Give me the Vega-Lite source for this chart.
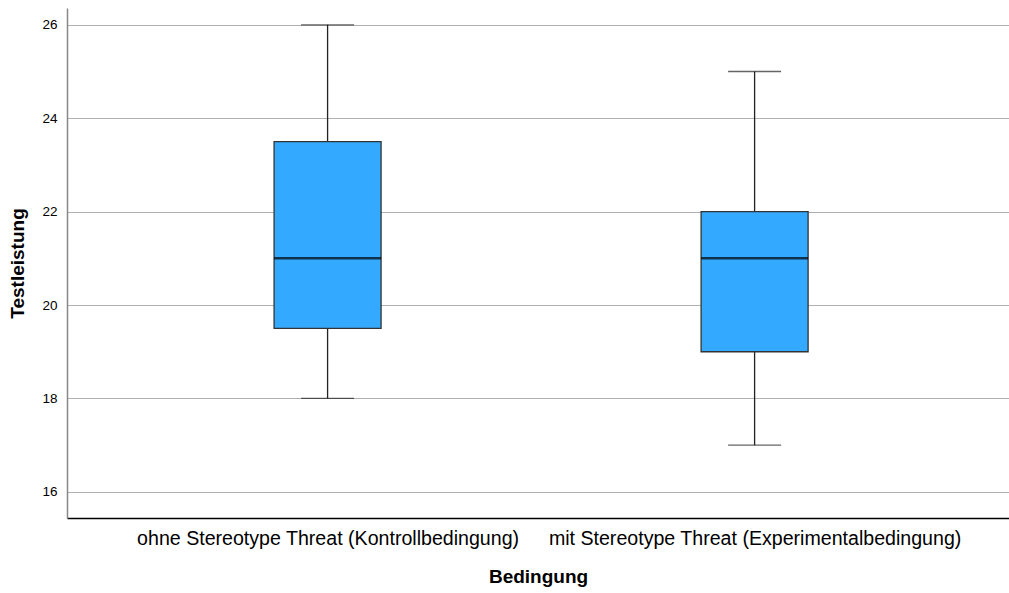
{
  "$schema": "https://vega.github.io/schema/vega-lite/v6.json",
  "width": 942,
  "height": 510,
  "autosize": {"type": "none"},
  "padding": {"left": 67, "top": 8, "right": 0, "bottom": 75},
  "background": "white",
  "config": {"view": {"stroke": null}, "font": "Liberation Sans"},
  "data": {"values": [
    {"Bedingung": "ohne Stereotype Threat (Kontrollbedingung)", "min": 18, "q1": 19.5, "median": 21, "q3": 23.5, "max": 26},
    {"Bedingung": "mit Stereotype Threat (Experimentalbedingung)", "min": 17, "q1": 19, "median": 21, "q3": 22, "max": 25}
  ]},
  "encoding": {
    "x": {
      "field": "Bedingung", "type": "nominal", "sort": null,
      "scale": {"type": "point", "padding": 0.603, "align": 0.506},
      "axis": {
        "title": "Bedingung", "titleFontSize": 19, "titleFontWeight": "bold", "titleColor": "#000",
        "titlePadding": 20, "labelFontSize": 19.6, "labelColor": "#000", "labelAngle": 0, "labelLimit": 0,
        "labelPadding": 11, "labelDx": 12, "ticks": false, "domainColor": "#000", "domainWidth": 1.5, "grid": false
      }
    }
  },
  "layer": [
    {
      "mark": {"type": "rule", "color": "#222", "strokeWidth": 1.3},
      "encoding": {
        "y": {
          "field": "min", "type": "quantitative",
          "scale": {"domain": [15.44, 26.36], "nice": false, "zero": false},
          "axis": {
            "title": "Testleistung", "titleFontSize": 19, "titleFontWeight": "bold", "titleColor": "#000",
            "titlePadding": 14, "labelFontSize": 13.5, "labelColor": "#000", "labelPadding": 10,
            "values": [16, 18, 20, 22, 24, 26], "ticks": false,
            "domainColor": "#888", "domainWidth": 1.5, "gridColor": "#b0b0b0", "gridWidth": 1
          }
        },
        "y2": {"field": "max"}
      }
    },
    {
      "mark": {"type": "bar", "size": 107, "fill": "#33aaff", "stroke": "#333", "strokeWidth": 1.3},
      "encoding": {
        "y": {"field": "q1", "type": "quantitative"},
        "y2": {"field": "q3"}
      }
    },
    {
      "mark": {"type": "tick", "size": 107, "color": "#000", "thickness": 2.5},
      "encoding": {"y": {"field": "median", "type": "quantitative"}}
    },
    {
      "mark": {"type": "tick", "size": 53, "color": "#222", "thickness": 1.3},
      "encoding": {"y": {"field": "min", "type": "quantitative"}}
    },
    {
      "mark": {"type": "tick", "size": 53, "color": "#222", "thickness": 1.3},
      "encoding": {"y": {"field": "max", "type": "quantitative"}}
    }
  ]
}
